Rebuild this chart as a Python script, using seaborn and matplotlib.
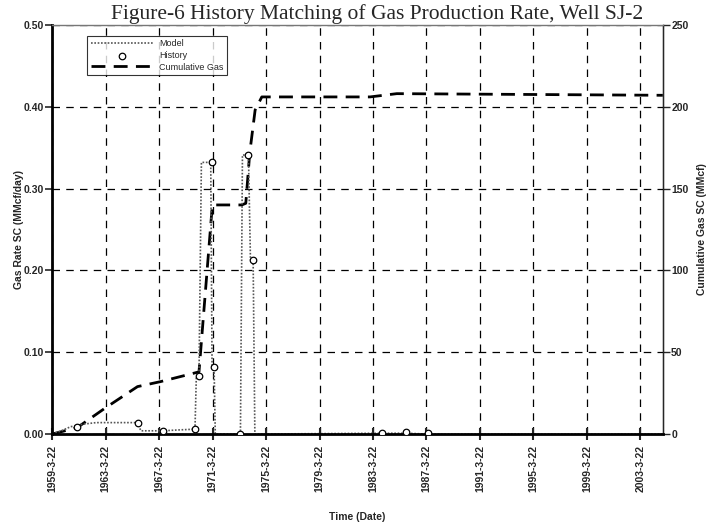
import numpy as np
import pandas as pd
import matplotlib
matplotlib.use("Agg")
import matplotlib.pyplot as plt
import matplotlib.dates as mdates
import seaborn as sns

# ---------------- data (decimal years) ----------------
model_year = [1959.22, 1959.9, 1960.6, 1961.5, 1962.5, 1965.6, 1965.85, 1967.5, 1968.6,
              1969.9, 1970.0, 1970.2, 1970.38, 1971.08, 1971.18, 1971.33, 1971.42,
              1973.3, 1973.45, 1973.9, 1974.05, 1974.25, 1974.38, 1983.9, 1985.7, 1987.3, 2004.9]
model_rate = [0.0, 0.004, 0.009, 0.012, 0.014, 0.014, 0.004, 0.004, 0.005,
              0.006, 0.070, 0.071, 0.332, 0.332, 0.082, 0.082, 0.0,
              0.0, 0.341, 0.341, 0.213, 0.213, 0.0, 0.001, 0.001, 0.0, 0.0]

hist_year = [1961.1, 1965.6, 1967.5, 1969.9, 1970.2, 1971.15, 1971.3, 1973.3,
             1973.9, 1974.25, 1983.9, 1985.7, 1987.3]
hist_rate = [0.009, 0.014, 0.004, 0.006, 0.071, 0.332, 0.082, 0.0,
             0.341, 0.213, 0.001, 0.002, 0.001]

cum_year = [1959.22, 1961.1, 1963.2, 1965.6, 1967.3, 1970.2, 1971.2, 1973.4,
            1973.7, 1974.0, 1974.4, 1974.9, 1983.0, 1985.0, 2004.9]
cum_gas = [0, 4, 16, 29, 32, 38, 140, 140,
           141, 172, 198, 206, 206, 208, 207]

tick_years = list(range(1959, 2004, 4))
rate_ticks = [0.0, 0.1, 0.2, 0.3, 0.4, 0.5]
cum_ticks = [0, 50, 100, 150, 200, 250]


def to_date(y):
    yi = int(np.floor(y))
    return pd.Timestamp(year=yi, month=1, day=1) + pd.Timedelta(days=(y - yi) * 365.25)


model_df = pd.DataFrame({"date": [to_date(y) for y in model_year], "rate": model_rate})
hist_df = pd.DataFrame({"date": [to_date(y) for y in hist_year], "rate": hist_rate})
cum_df = pd.DataFrame({"date": [to_date(y) for y in cum_year], "cum": cum_gas})
tick_dates = [pd.Timestamp(year=y, month=3, day=22) for y in tick_years]

# ---------------- style ----------------
sns.set_style("ticks")
plt.rcParams["font.family"] = ["Liberation Sans", "DejaVu Sans"]

fig = plt.figure(figsize=(7.15, 5.30), dpi=100)
ax = fig.add_axes([0.073, 0.181, 0.854, 0.772])

sns.lineplot(data=model_df, x="date", y="rate", ax=ax, color="#555555", lw=1.2,
             linestyle=(0, (1, 1)), sort=False, estimator=None, label="Model", legend=False)
sns.scatterplot(data=hist_df, x="date", y="rate", ax=ax, marker="o", s=22,
                facecolor="white", edgecolor="black", linewidth=0.9, zorder=5,
                label="History", legend=False)

ax2 = ax.twinx()
sns.lineplot(data=cum_df, x="date", y="cum", ax=ax2, color="black", lw=2.0,
             linestyle=(0, (5, 3)), sort=False, estimator=None, label="Cumulative Gas",
             legend=False)

xmin = pd.Timestamp(year=1959, month=3, day=22)
xmax = to_date(2004.9)
ax.set_xlim(xmin, xmax)
ax.set_ylim(0, 0.5)
ax2.set_ylim(0, 250)

ax.set_xticks(tick_dates)
ax.set_xticklabels([f"{d.year}-{d.month}-{d.day}" for d in tick_dates], rotation=90,
                   fontsize=7.5, fontweight="bold")
ax.set_yticks(rate_ticks)
ax.set_yticklabels([f"{v:.2f}" for v in rate_ticks], fontsize=7.5, fontweight="bold")
ax2.set_yticks(cum_ticks)
ax2.set_yticklabels([str(v) for v in cum_ticks], fontsize=7.5, fontweight="bold")

ax.grid(True, color="black", linestyle=(0, (6, 5)), linewidth=0.9)
ax.set_axisbelow(True)

ax.tick_params(axis="x", direction="inout", length=8, width=1.5, pad=4)
ax.tick_params(axis="y", direction="out", length=5, width=1.2, pad=1)
ax2.tick_params(axis="y", direction="out", length=5, width=1.0, pad=1)

for sp in ["left", "bottom"]:
    ax.spines[sp].set_linewidth(2.0)
    ax.spines[sp].set_color("black")
ax.spines["top"].set_visible(True)
ax.spines["top"].set_color("#777777")
ax.spines["top"].set_linewidth(1.0)
ax2.spines["top"].set_visible(False)
ax2.spines["left"].set_visible(False)
ax2.spines["bottom"].set_visible(False)
ax2.spines["right"].set_linewidth(1.0)
ax2.spines["right"].set_color("black")

ax.set_xlabel("Time (Date)", fontsize=7.5, fontweight="bold", labelpad=14)
ax.set_ylabel("Gas Rate SC (MMcf/day)", fontsize=7.5, fontweight="bold", labelpad=0)
ax2.set_ylabel("Cumulative Gas SC (MMcf)", fontsize=7.5, fontweight="bold", labelpad=6)

h1, l1 = ax.get_legend_handles_labels()
h2, l2 = ax2.get_legend_handles_labels()
leg = ax.legend(h1 + h2, l1 + l2, loc="upper left", bbox_to_anchor=(0.05, 0.985),
                fontsize=6.5, frameon=True, fancybox=False, edgecolor="black",
                handlelength=7, borderpad=0.4, labelspacing=0.3, handletextpad=0.6)
leg.get_frame().set_linewidth(0.8)
leg.set_zorder(10)
ax.set_zorder(ax2.get_zorder() + 1)
ax.patch.set_visible(False)

fig.text(0.527, 1.0 - 19 / 530, "Figure-6 History Matching of Gas Production Rate, Well SJ-2",
         ha="center", va="baseline", fontsize=15.5, family=["Liberation Serif", "DejaVu Serif"])

fig.savefig("out.png", dpi=100)
